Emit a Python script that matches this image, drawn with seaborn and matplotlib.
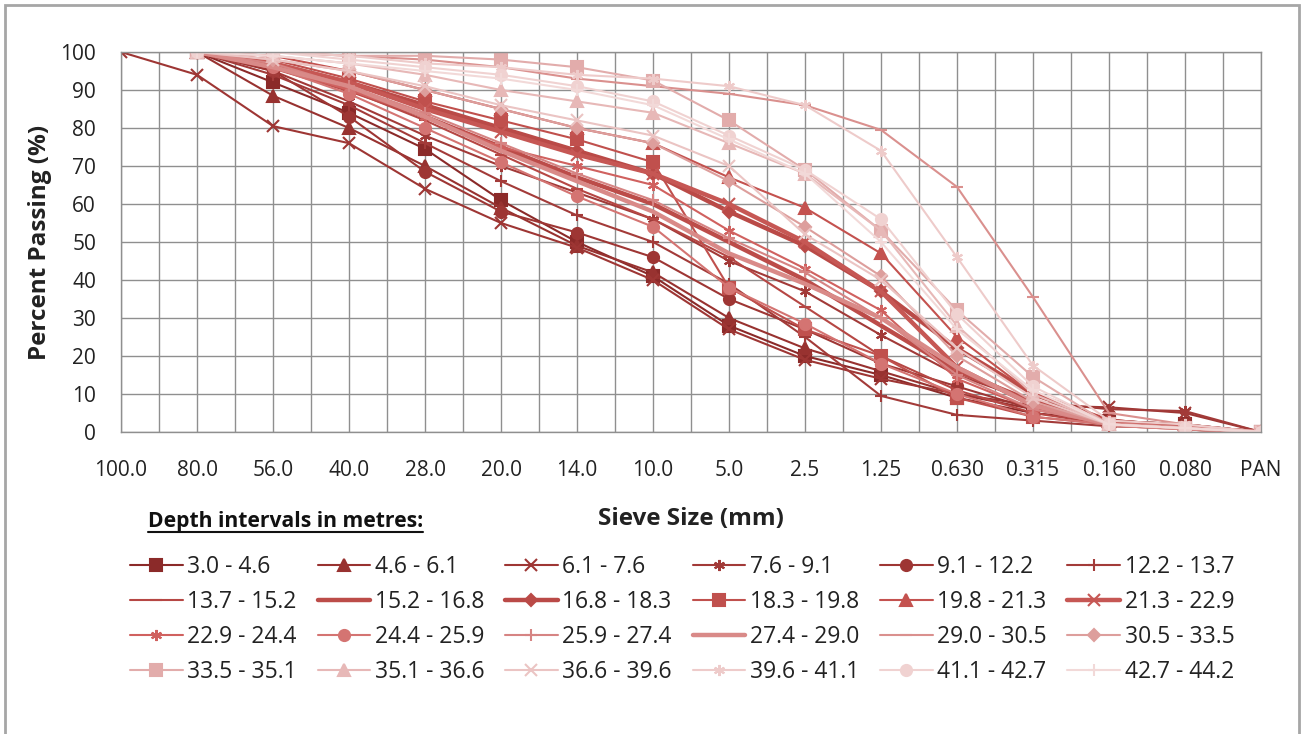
import numpy as np
import matplotlib.pyplot as plt
import seaborn as sns
from matplotlib.lines import Line2D
from matplotlib.patches import Rectangle
from matplotlib.ticker import MultipleLocator

sns.set_style("white")
plt.rcParams['font.family'] = ['Open Sans', 'DejaVu Sans']

# sieve sizes (x categories)
sieve_sizes = ['100.0', '80.0', '56.0', '40.0', '28.0', '20.0', '14.0', '10.0',
               '5.0', '2.5', '1.25', '0.630', '0.315', '0.160', '0.080', 'PAN']

depths = ['3.0 - 4.6', '4.6 - 6.1', '6.1 - 7.6', '7.6 - 9.1', '9.1 - 12.2', '12.2 - 13.7',
          '13.7 - 15.2', '15.2 - 16.8', '16.8 - 18.3', '18.3 - 19.8', '19.8 - 21.3', '21.3 - 22.9',
          '22.9 - 24.4', '24.4 - 25.9', '25.9 - 27.4', '27.4 - 29.0', '29.0 - 30.5', '30.5 - 33.5',
          '33.5 - 35.1', '35.1 - 36.6', '36.6 - 39.6', '39.6 - 41.1', '41.1 - 42.7', '42.7 - 44.2']

# percent passing per depth interval
p_03_0 = [np.nan, 100, 92, 84, 74.5, 61, 50, 41, 28, 20, 15, 9, 5, 3, 2, 0]
p_04_6 = [np.nan, 100, 88.5, 80, 70, 59, 49, 42, 30, 22, 16, 10, 6, 3, 2, 0]
p_06_1 = [100, 94, 80.5, 76, 64, 55, 48.5, 40, 27, 19, 14, 10, 7, 6.5, 5, 0]
p_07_6 = [np.nan, 100, 95, 87, 78, 70, 63, 56, 45, 37, 25.5, 15, 8, 6, 5.5, 0]
p_09_1 = [np.nan, 100, 95, 83, 68.5, 58, 52.5, 46, 35, 27, 18, 12, 6, 3, 2, 0]
p_12_2 = [np.nan, 100, 94, 86, 76, 66, 57, 50, 39, 25, 9.5, 4.5, 3, 1.5, 1, 0]
p_13_7 = [np.nan, 100, 97, 90, 82, 73, 64, 56, 46, 33, 20, 11, 5, 2, 1, 0]
p_15_2 = [np.nan, 100, 96, 90, 83, 75, 67, 60, 50, 40, 28, 16, 8, 3, 1, 0]
p_16_8 = [np.nan, 100, 97, 92, 86, 80, 74, 68, 58, 49, 37, 22, 10, 3, 1, 0]
p_18_3 = [np.nan, 100, 98, 93, 87, 82, 77, 71, 38, 27, 20, 9, 4, 2, 1, 0]
p_19_8 = [np.nan, 100, 99, 95, 90, 85, 80, 76, 67, 59, 47, 25, 10, 3, 1, 0]
p_21_3 = [np.nan, 100, 97, 92, 85, 79, 73, 68, 60, 50, 37, 17, 7, 2, 1, 0]
p_22_9 = [np.nan, 100, 96, 90, 83, 75, 70, 65, 53, 43, 32, 14, 6, 2, 1, 0]
p_24_4 = [np.nan, 100, 96, 89, 80, 71, 62, 54, 38, 28.5, 18, 10, 4, 2, 1, 0]
p_25_9 = [np.nan, 100, 97, 91, 84, 76, 68, 61, 51, 42, 30, 15, 6, 2, 1, 0]
p_27_4 = [np.nan, 100, 96, 91, 83, 74, 66, 58, 47, 39, 30, 17, 7, 2, 1, 0]
p_29_0 = [np.nan, 100, 100, 99, 98, 96, 93, 91, 89, 86, 79.5, 64.5, 35.5, 5, 2, 0]
p_30_5 = [np.nan, 100, 98, 95, 90, 85, 80, 76, 66, 54, 41, 20, 8, 2, 1, 0]
p_33_5 = [np.nan, 100, 100, 99, 99, 98, 96, 92.5, 82, 69, 53, 32, 14.5, 2, 1, 0]
p_35_1 = [np.nan, 100, 99, 97, 94, 90, 87, 84, 76, 68, 53, 28, 10, 2, 1, 0]
p_36_6 = [np.nan, 100, 98, 95, 91, 86, 82, 78, 70, 52, 40, 22, 9, 2, 1, 0]
p_39_6 = [np.nan, 100, 100, 99, 97, 96, 94, 93, 91, 86, 74, 46, 17.5, 3, 2, 0]
p_41_1 = [np.nan, 100, 100, 98, 96, 94, 91, 87, 78, 69, 56, 31, 12, 2, 1, 0]
p_42_7 = [np.nan, 100, 99, 97, 95, 93, 90, 86, 77, 68, 50, 27, 11, 2, 1, 0]

series = [p_03_0, p_04_6, p_06_1, p_07_6, p_09_1, p_12_2,
          p_13_7, p_15_2, p_16_8, p_18_3, p_19_8, p_21_3,
          p_22_9, p_24_4, p_25_9, p_27_4, p_29_0, p_30_5,
          p_33_5, p_35_1, p_36_6, p_39_6, p_41_1, p_42_7]

ast = (6, 2, 0)
markers = ['s', '^', 'x', ast, 'o', '+',
           '_', None, 'D', 's', '^', 'x',
           ast, 'o', '+', None, '_', 'D',
           's', '^', 'x', ast, 'o', '+']
colors = ['#8B2A29', '#983230', '#9E3634', '#A23A38', '#9E3634', '#A33B39',
          '#B64744', '#BC4C49', '#BA4A47', '#C0504D', '#C4524F', '#C65754',
          '#D0615F', '#D47472', '#D68483', '#D98A88', '#DA908E', '#DD9E9C',
          '#E2ACAB', '#E7B8B7', '#EBC4C3', '#EECBCA', '#F0D2D1', '#F2D9D8']
widths = [1.5, 1.5, 1.5, 1.5, 1.5, 1.5,
          1.5, 3.2, 3.2, 1.5, 1.5, 3.2,
          1.5, 1.5, 1.5, 3.2, 1.5, 1.5,
          1.5, 1.5, 1.5, 1.5, 1.5, 1.5]

fig = plt.figure(figsize=(13.04, 7.34), dpi=100)
ax = fig.add_axes([121 / 1304, 1 - 432 / 734, 1140 / 1304, 380 / 734])

pos = np.arange(len(sieve_sizes))
for name, vals, c, m, lw in zip(depths, series, colors, markers, widths):
    ms = 6.5 if m == 'D' else 8
    sns.lineplot(x=pos, y=vals, ax=ax, color=c, marker=m, linewidth=lw,
                 markersize=ms, markeredgecolor=c, markerfacecolor=c,
                 markeredgewidth=1.5, errorbar=None, label=name)
if ax.get_legend() is not None:
    ax.get_legend().remove()

grid_c = '#8f8f8f'
txt_c = '#222222'
ax.set_xlim(0, 15)
ax.set_ylim(0, 100)
ax.set_xticks(pos, sieve_sizes)
ax.xaxis.set_minor_locator(MultipleLocator(0.5))
ax.yaxis.set_major_locator(MultipleLocator(10))
ax.grid(axis='x', which='both', color=grid_c, lw=1)
ax.grid(axis='y', which='major', color=grid_c, lw=1)
ax.set_axisbelow(True)
for sp in ax.spines.values():
    sp.set_color(grid_c)
    sp.set_linewidth(1)
ax.tick_params(axis='y', length=9, width=1, color=grid_c, pad=9, labelsize=15, labelcolor=txt_c)
ax.tick_params(axis='x', which='both', length=0, pad=20, labelsize=15, labelcolor=txt_c)
ax.set_xlabel('Sieve Size (mm)', fontsize=17.5, fontweight='bold', labelpad=19, color=txt_c)
ax.set_ylabel('Percent Passing (%)', fontsize=17.5, fontweight='bold', labelpad=6, color=txt_c)

# legend laid out row by row like the original
handles, labels = ax.get_legend_handles_labels()
ncol, nrow = 6, 4
order = [r * ncol + c for c in range(ncol) for r in range(nrow)]
fig.legend([handles[i] for i in order], [labels[i] for i in order], ncol=ncol,
           loc='upper left', bbox_to_anchor=(130 / 1304, 1 - 555 / 734),
           frameon=False, fontsize=16.5, handlelength=2.3, handletextpad=0.2,
           columnspacing=0.9, labelspacing=0.48, borderpad=0, borderaxespad=0,
           labelcolor=txt_c)

title = fig.text(148 / 1304, 1 - 522 / 734, 'Depth intervals in metres:', fontsize=15.2,
                 fontweight='bold', va='center', ha='left', color='#111111')
fig.canvas.draw()
bb = title.get_window_extent(fig.canvas.get_renderer())
fig.add_artist(Line2D([bb.x0 / 1304, bb.x1 / 1304], [(bb.y0 + 1) / 734, (bb.y0 + 1) / 734],
                      transform=fig.transFigure, color='#111111', lw=1.5))

# chart area border
fig.add_artist(Rectangle((5 / 1304, -0.01), 1294 / 1304, (729 / 734) + 0.01,
                         transform=fig.transFigure, fill=False, ec='#a6a6a6', lw=2))

fig.savefig('out.png', dpi=100)
